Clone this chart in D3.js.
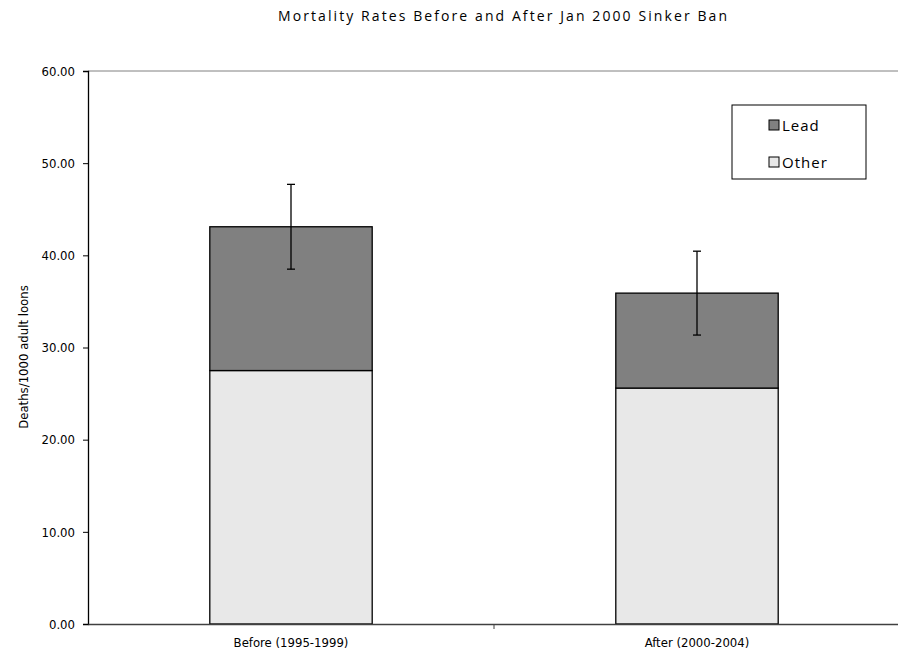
<!doctype html>
<html lang="en">
<head>
  <meta charset="utf-8">
  <title>Mortality Rates Before and After Jan 2000 Sinker Ban</title>
  <script src="https://d3js.org/d3.v7.min.js"></script>
  <style>
    body { margin: 0; background: #fff; }
    text { fill: #000; }
  </style>
</head>
<body>
  <div id="chart"></div>
  <script>
    // data
    const periods = ["Before (1995-1999)", "After (2000-2004)"];
    const otherRate = [27.5, 25.6];
    const leadRate = [15.6, 10.3];
    const errorHalf = [4.6, 4.55];
    const yTicks = [0, 10, 20, 30, 40, 50, 60];
    const seriesNames = ["Lead", "Other"];
    const seriesColors = { Lead: "#808080", Other: "#e8e8e8" };

    const W = 898, H = 654;
    const plotLeft = 88, plotRight = 900, plotTop = 71, plotBottom = 624;
    const narrow = "'DejaVu Sans Condensed', 'Liberation Sans Narrow', sans-serif";

    const svg = d3.select("#chart").append("svg")
      .attr("width", W)
      .attr("height", H);

    const x = d3.scaleBand()
      .domain(periods)
      .range([plotLeft, plotRight])
      .paddingInner(0.6)
      .paddingOuter(0.3);

    const y = d3.scaleLinear()
      .domain([0, 60])
      .range([plotBottom, plotTop]);

    // top border of the plot area
    svg.append("line")
      .attr("x1", plotLeft).attr("x2", plotRight)
      .attr("y1", y(60)).attr("y2", y(60))
      .attr("stroke", "#808080")
      .attr("stroke-width", 1);

    // stacked bars
    const rows = periods.map((p, i) => ({ period: p, Other: otherRate[i], Lead: leadRate[i], err: errorHalf[i] }));
    const stack = d3.stack().keys(["Other", "Lead"])(rows);

    svg.append("g").selectAll("g")
      .data(stack)
      .enter().append("g")
      .attr("fill", d => seriesColors[d.key])
      .selectAll("rect")
      .data(d => d)
      .enter().append("rect")
      .attr("x", d => x(d.data.period))
      .attr("width", x.bandwidth())
      .attr("y", d => y(d[1]))
      .attr("height", d => y(d[0]) - y(d[1]))
      .attr("stroke", "#000")
      .attr("stroke-width", 1.3);

    // error bars
    const eb = svg.append("g").attr("stroke", "#000").attr("stroke-width", 1.3);
    rows.forEach(r => {
      const cx = x(r.period) + x.bandwidth() / 2;
      const tot = r.Other + r.Lead;
      eb.append("line").attr("x1", cx).attr("x2", cx).attr("y1", y(tot + r.err)).attr("y2", y(tot - r.err));
      eb.append("line").attr("x1", cx - 4).attr("x2", cx + 4).attr("y1", y(tot + r.err)).attr("y2", y(tot + r.err));
      eb.append("line").attr("x1", cx - 4).attr("x2", cx + 4).attr("y1", y(tot - r.err)).attr("y2", y(tot - r.err));
    });

    // y axis
    const yAxis = svg.append("g")
      .attr("transform", `translate(${plotLeft},0)`)
      .call(d3.axisLeft(y).tickValues(yTicks).tickFormat(d3.format(".2f")).tickSize(5).tickPadding(8));
    yAxis.select(".domain").attr("stroke", "#000").attr("stroke-width", 1.3);
    yAxis.selectAll(".tick line").attr("stroke", "#000");
    yAxis.selectAll("text")
      .attr("font-family", narrow)
      .attr("font-size", 13)
      .attr("fill", "#000");

    // x axis
    const xAxis = svg.append("g")
      .attr("transform", `translate(0,${plotBottom})`)
      .call(d3.axisBottom(x).tickSize(0).tickPadding(14));
    xAxis.select(".domain").attr("stroke", "#404040").attr("stroke-width", 1.5);
    xAxis.selectAll("text")
      .attr("font-family", narrow)
      .attr("font-size", 13)
      .attr("fill", "#000");
    // category separator tick marks
    svg.append("g").selectAll("line")
      .data(periods.slice(1))
      .enter().append("line")
      .attr("x1", d => x(d) - x.step() * x.paddingInner() / 2)
      .attr("x2", d => x(d) - x.step() * x.paddingInner() / 2)
      .attr("y1", plotBottom).attr("y2", plotBottom + 5)
      .attr("stroke", "#404040");

    // y axis title
    svg.append("text")
      .attr("transform", `translate(28,357) rotate(-90)`)
      .attr("text-anchor", "middle")
      .attr("font-family", narrow)
      .attr("font-size", 13)
      .text("Deaths/1000 adult loons");

    // title
    svg.append("text")
      .attr("x", 278).attr("y", 21)
      .attr("font-family", "'Open Sans', 'Noto Sans', sans-serif")
      .attr("font-size", 14)
      .attr("textLength", 449)
      .attr("lengthAdjust", "spacing")
      .text("Mortality Rates Before and After Jan 2000 Sinker Ban");

    // legend
    const lg = svg.append("g").attr("transform", "translate(732,105)");
    lg.append("rect")
      .attr("width", 134).attr("height", 74)
      .attr("fill", "#fff").attr("stroke", "#000").attr("stroke-width", 1);
    const li = lg.selectAll("g.item")
      .data(seriesNames)
      .enter().append("g")
      .attr("class", "item")
      .attr("transform", (d, i) => `translate(37,${15 + i * 37})`);
    li.append("rect")
      .attr("width", 10).attr("height", 10)
      .attr("fill", d => seriesColors[d])
      .attr("stroke", "#000");
    li.append("text")
      .attr("x", 13).attr("y", 11)
      .attr("font-family", "'Open Sans', 'Noto Sans', sans-serif")
      .attr("font-size", 15)
      .attr("letter-spacing", 1)
      .text(d => d);
  </script>
</body>
</html>
